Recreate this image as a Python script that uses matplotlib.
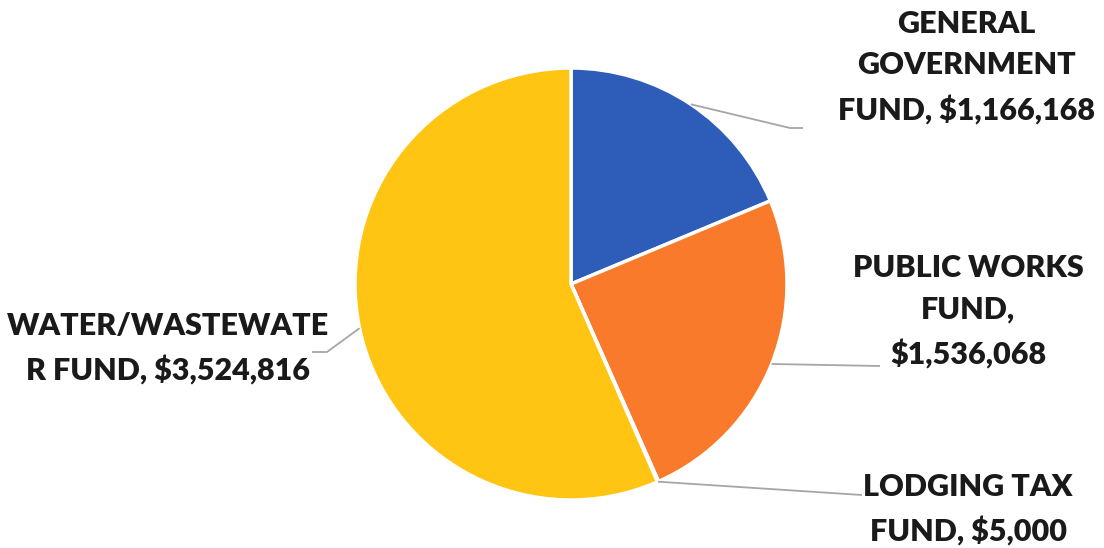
import numpy as np
import matplotlib
matplotlib.use('Agg')
import matplotlib.pyplot as plt

# fund totals, clockwise from 12 o'clock
funds = ['GENERAL\nGOVERNMENT\nFUND', 'PUBLIC WORKS\nFUND,', 'LODGING TAX\nFUND', 'WATER/WASTEWATE\nR FUND']
amounts = [1166168, 1536068, 5000, 3524816]
colors = ['#2D5DB8', '#F97A2B', '#A5A5A5', '#FFC512']

W, H = 1104, 548
cx, cy, R = 571, 284, 216   # pie centre / radius in pixels

def px(x, y):
    # pixel (from top-left) -> pie data units
    return (x - cx) / R, (cy - y) / R

fig = plt.figure(figsize=(W / 100, H / 100), dpi=100)
ax = fig.add_axes([0, 0, 1, 1])

wedges, _ = ax.pie(amounts, colors=colors, startangle=90, counterclock=False,
                   wedgeprops=dict(edgecolor='white', linewidth=2.5))

ax.set_xlim(-cx / R, (W - cx) / R)
ax.set_ylim(-(H - cy) / R, cy / R)
ax.set_aspect('auto')
ax.axis('off')

# label text: (centre x, centre y) in pixels, text
labels = [
    (966, 67, 'GENERAL\nGOVERNMENT\nFUND, $1,166,168'),
    (968, 311, 'PUBLIC WORKS\nFUND,\n$1,536,068'),
    (968, 509, 'LODGING TAX\nFUND, $5,000'),
    (168, 348, 'WATER/WASTEWATE\nR FUND, $3,524,816'),
]
# leader elbow points (pixels) after the wedge edge
elbows = [
    [(790, 128), (803, 128)],
    [(880, 366)],
    [(862, 495)],
    [(327, 352), (312, 352)],
]

for w, (tx, ty, txt), el in zip(wedges, labels, elbows):
    mid = np.deg2rad((w.theta1 + w.theta2) / 2)
    xs = [np.cos(mid)] + [px(*p)[0] for p in el]
    ys = [np.sin(mid)] + [px(*p)[1] for p in el]
    ax.plot(xs, ys, color='#A6A6A6', lw=1.3, solid_capstyle='butt')
    x, y = px(tx, ty)
    ax.text(x, y, txt, ha='center', va='center', fontsize=22, fontweight='heavy',
            family='Lato', color='#1A1A1A', linespacing=1.6)

fig.savefig('out.png', dpi=100, facecolor='white')
